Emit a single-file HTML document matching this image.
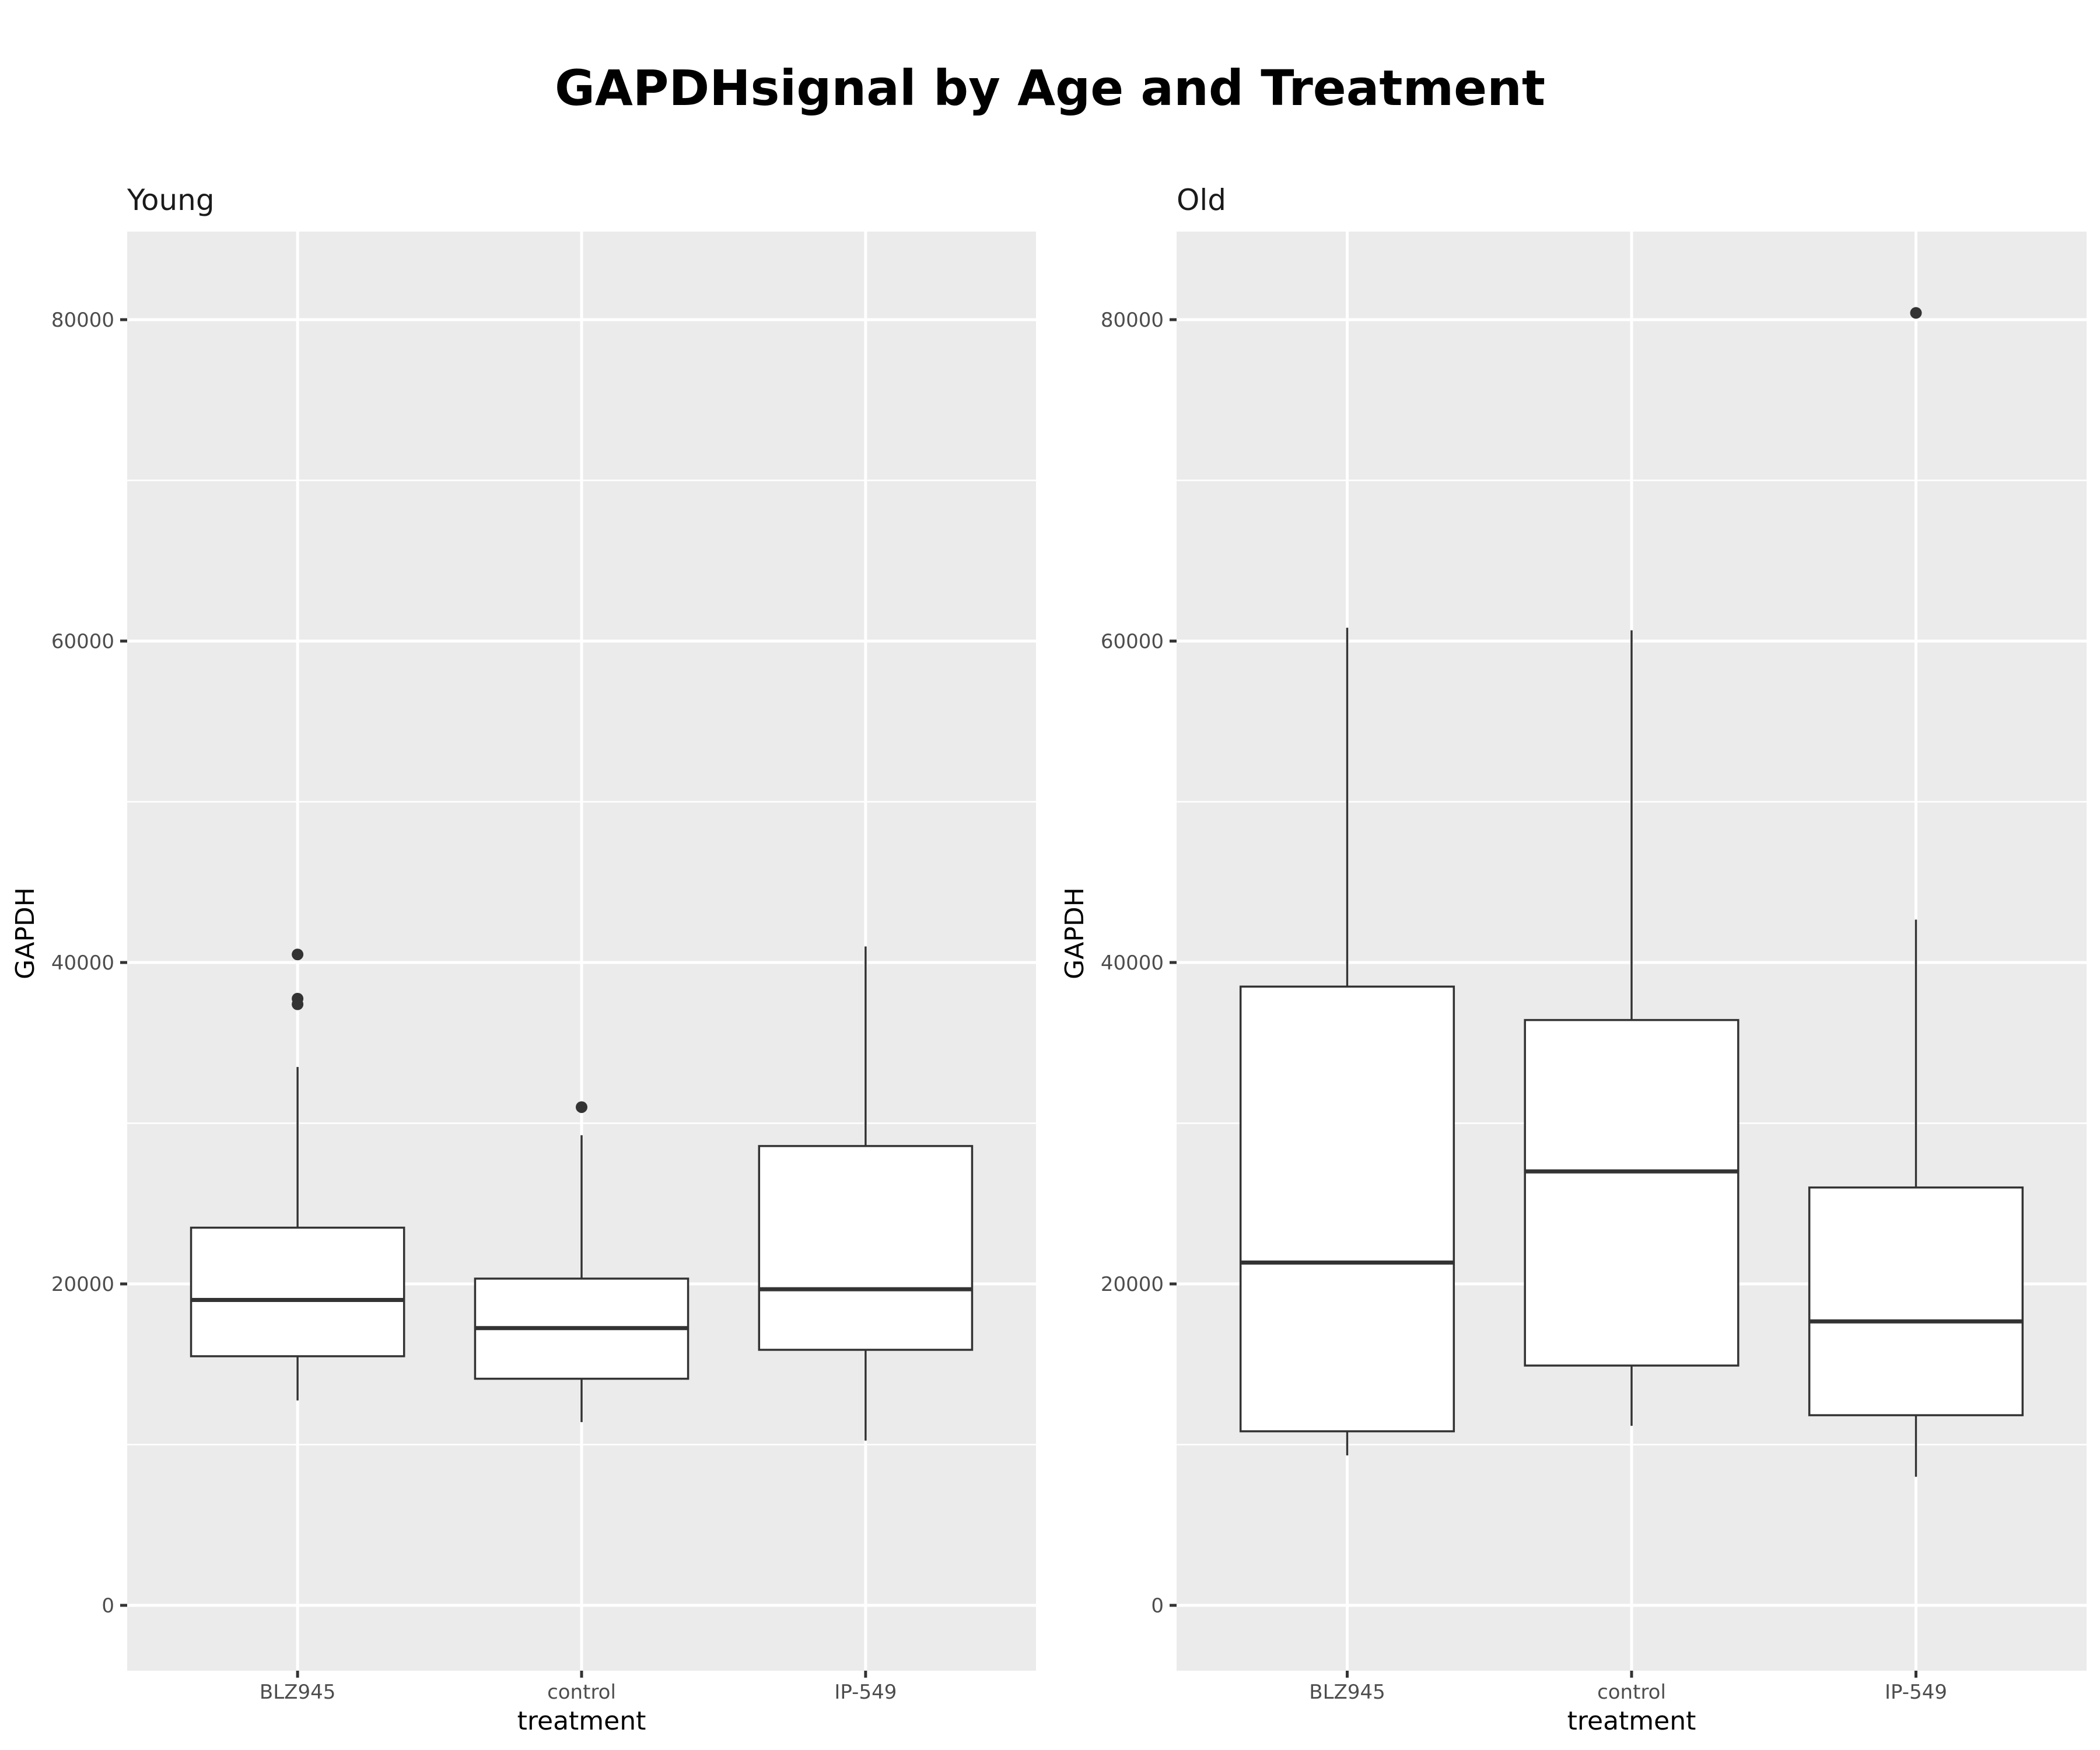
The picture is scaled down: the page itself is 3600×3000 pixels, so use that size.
<!DOCTYPE html>
<html><head><meta charset="utf-8"><style>
body{margin:0;background:#fff}
svg{display:block}
text{font-family:"DejaVu Sans","Liberation Sans",sans-serif}
</style></head><body>
<svg id="chart" width="3600" height="3000" xmlns="http://www.w3.org/2000/svg">
<rect width="3600" height="3000" fill="#fff"/>
<text x="1800" y="180" text-anchor="middle" font-size="84" font-weight="bold">GAPDHsignal by Age and Treatment</text>
</svg>
<script>
const categories = ["BLZ945", "control", "IP-549"];
const facets = ["Young", "Old"];
const yTicks = [0, 20000, 40000, 60000, 80000];
const youngLow = [12750, 11400, 10250];
const youngQ1 = [15500, 14100, 15900];
const youngMed = [19000, 17250, 19670];
const youngQ3 = [23500, 20330, 28580];
const youngHigh = [33500, 29250, 41000];
const youngOutliers = [[40500, 37750, 37400], [31000], []];
const oldLow = [9330, 11170, 8000];
const oldQ1 = [10830, 14920, 11830];
const oldMed = [21330, 27000, 17670];
const oldQ3 = [38500, 36420, 26000];
const oldHigh = [60830, 60670, 42670];
const oldOutliers = [[], [], [80420]];

const NS = "http://www.w3.org/2000/svg";
const svgEl = document.getElementById("chart");
function mk(tag, attrs, parent) {
  const e = document.createElementNS(NS, tag);
  for (const k in attrs) e.setAttribute(k, attrs[k]);
  (parent || svgEl).appendChild(e);
  return e;
}
const panelTop = 397, panelBottom = 2864;
const yScale = v => 2752 - v * (2752 - 548) / 80000;
const panels = [{x0: 218, x1: 1776}, {x0: 2017, x1: 3577}];
const data = [
  {low: youngLow, q1: youngQ1, med: youngMed, q3: youngQ3, high: youngHigh, out: youngOutliers},
  {low: oldLow, q1: oldQ1, med: oldMed, q3: oldQ3, high: oldHigh, out: oldOutliers}
];
panels.forEach((p, pi) => {
  const w = p.x1 - p.x0;
  const band = w / (categories.length + 0.2);
  const xc = i => p.x0 + band * (0.6 + i);
  const g = mk("g", {});
  
  
  const bg = mk("rect", {x: p.x0, y: panelTop, width: w, height: panelBottom - panelTop, fill: "#ebebeb"}, g);
  
  
  for (let v = 10000; v < 85000; v += 20000) {
    mk("line", {x1: p.x0, x2: p.x1, y1: yScale(v), y2: yScale(v), stroke: "#fff", "stroke-width": 2.5}, g);
  }
  yTicks.forEach(v => {
    const gl = mk("line", {x1: p.x0, x2: p.x1, y1: yScale(v), y2: yScale(v), stroke: "#fff", "stroke-width": 5}, g);
    
    
    mk("line", {x1: p.x0 - 12, x2: p.x0, y1: yScale(v), y2: yScale(v), stroke: "#333", "stroke-width": 5}, g);
    const t = mk("text", {x: p.x0 - 22, y: yScale(v) + 12, "text-anchor": "end", "font-size": 34, fill: "#4d4d4d"}, g);
    t.textContent = v;
    
    
  });
  categories.forEach((c, i) => {
    const cx = xc(i);
    mk("line", {x1: cx, x2: cx, y1: panelTop, y2: panelBottom, stroke: "#fff", "stroke-width": 5}, g);
    mk("line", {x1: cx, x2: cx, y1: panelBottom, y2: panelBottom + 12, stroke: "#333", "stroke-width": 5}, g);
    const t = mk("text", {x: cx, y: panelBottom + 48, "text-anchor": "middle", "font-size": 34, fill: "#4d4d4d"}, g);
    t.textContent = c;
    
    
    const d = data[pi];
    const bw = band * 0.375;
    const box = mk("g", {}, g);
    
    
    mk("line", {x1: cx, x2: cx, y1: yScale(d.high[i]), y2: yScale(d.q3[i]), stroke: "#333", "stroke-width": 3.5}, box);
    mk("line", {x1: cx, x2: cx, y1: yScale(d.q1[i]), y2: yScale(d.low[i]), stroke: "#333", "stroke-width": 3.5}, box);
    mk("rect", {x: cx - bw, y: yScale(d.q3[i]), width: 2 * bw, height: yScale(d.q1[i]) - yScale(d.q3[i]), fill: "#fff", stroke: "#333", "stroke-width": 3.5}, box);
    mk("line", {x1: cx - bw, x2: cx + bw, y1: yScale(d.med[i]), y2: yScale(d.med[i]), stroke: "#333", "stroke-width": 7}, box);
    d.out[i].forEach(v => {
      const pt = mk("circle", {cx: cx, cy: yScale(v), r: 10, fill: "#333"}, box);
      
      
    });
  });
  const ft = mk("text", {x: p.x0, y: 360, "font-size": 50, fill: "#1a1a1a"}, g);
  ft.textContent = facets[pi];
  
  
  const xt = mk("text", {x: (p.x0 + p.x1) / 2, y: 2965, "text-anchor": "middle", "font-size": 44}, g);
  xt.textContent = "treatment";
  
  
  const yx = p.x0 - 160;
  const yt = mk("text", {x: yx, y: 1600, "text-anchor": "middle", "font-size": 44, transform: "rotate(-90 " + yx + " 1600)"}, g);
  yt.textContent = "GAPDH";
  
  
});
</script>
</body></html>
